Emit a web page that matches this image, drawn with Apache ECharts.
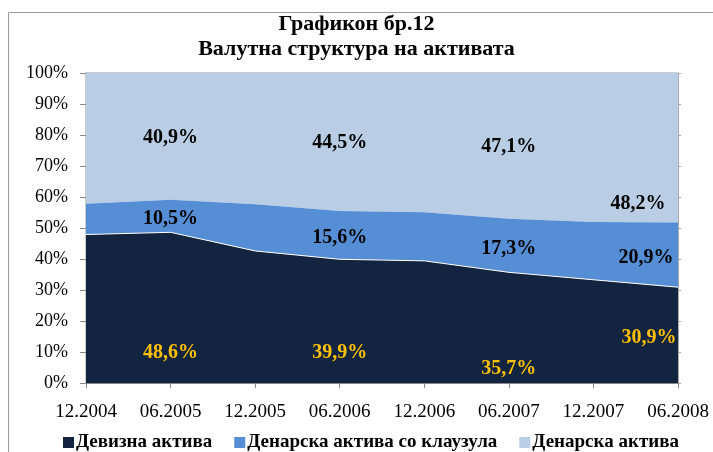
<!DOCTYPE html>
<html lang="mk">
<head>
    <meta charset="UTF-8">
    <title>Графикон бр.12</title>
    <script src="https://cdn.jsdelivr.net/npm/echarts@6/dist/echarts.min.js"></script>
    <style>
        html, body { margin: 0; padding: 0; background: #fff; }
        #main { width: 713px; height: 452px; }
    </style>
</head>
<body>
    <div id="main"></div>
    <script>
        // податоци
        var months = ['12.2004', '06.2005', '12.2005', '06.2006', '12.2006', '06.2007', '12.2007', '06.2008'];
        var devizna = [47.9, 48.6, 42.6, 39.9, 39.4, 35.7, 33.3, 30.9];
        var klauzula = [9.9, 10.5, 15.1, 15.6, 15.7, 17.3, 18.6, 20.9];
        var denarska = [42.2, 40.9, 42.3, 44.5, 44.9, 47.1, 48.1, 48.2];
        var yTicks = [0, 10, 20, 30, 40, 50, 60, 70, 80, 90, 100];

        // which points get a text label (index into months)
        var labelIdx = [1, 3, 5, 7];
        // label placement: y in axis %, x offset in px
        var labelPos = {
            devizna: [[9.6, 0], [9.6, 0], [4.7, 0], [14.7, -29]],
            klauzula: [[52.9, 0], [46.9, 0], [43.4, 0], [40.5, -32]],
            denarska: [[79.0, 0], [77.4, 0], [76.1, 0], [57.7, -40]]
        };

        var serif = '"Liberation Serif", "Times New Roman", serif';

        function fmt(v) {
            return String(v).replace('.', ',') + '%';
        }

        function marks(values, pos, color) {
            return {
                symbol: 'circle',
                symbolSize: 0,
                silent: true,
                label: {
                    show: true,
                    position: 'inside',
                    color: color,
                    fontFamily: serif,
                    fontWeight: 'bold',
                    fontSize: 20,
                    formatter: function (p) { return fmt(p.value); }
                },
                data: labelIdx.map(function (i, k) {
                    return {
                        coord: [months[i], pos[k][0]],
                        value: values[i],
                        label: { offset: [pos[k][1], 0] }
                    };
                })
            };
        }

        var myChart = echarts.init(document.getElementById('main'));

        var option = {
            animation: false,
            title: {
                text: 'Графикон бр.12\nВалутна структура на активата',
                left: 'center',
                top: 7,
                textStyle: {
                    fontFamily: serif,
                    fontWeight: 'bold',
                    fontSize: 22,
                    lineHeight: 25,
                    color: '#000'
                }
            },
            graphic: [{
                type: 'rect',
                shape: { x: 8.5, y: 12.5, width: 720, height: 460 },
                style: { fill: 'none', stroke: '#999', lineWidth: 1 },
                silent: true
            }],
            legend: {
                top: 428,
                left: 58,
                itemWidth: 11,
                itemHeight: 11,
                itemGap: 22,
                icon: 'rect',
                textStyle: {
                    fontFamily: serif,
                    fontWeight: 'bold',
                    fontSize: 19,
                    color: '#000',
                    padding: [0, 0, 0, -3]
                },
                data: ['Девизна актива', 'Денарска актива со клаузула', 'Денарска актива']
            },
            grid: {
                left: 86,
                right: 35,
                top: 73,
                bottom: 69,
                show: true,
                borderColor: '#999',
                borderWidth: 1
            },
            xAxis: {
                type: 'category',
                data: months,
                boundaryGap: false,
                axisLine: { lineStyle: { color: '#888' } },
                axisTick: { show: true, length: 5, lineStyle: { color: '#888' } },
                axisLabel: {
                    margin: 20,
                    color: '#000',
                    fontFamily: serif,
                    fontSize: 19
                },
                splitLine: { show: false }
            },
            yAxis: [{
                type: 'value',
                min: yTicks[0],
                max: yTicks[yTicks.length - 1],
                interval: 10,
                axisLine: { show: true, lineStyle: { color: '#888' } },
                axisTick: { show: true, length: 6, lineStyle: { color: '#888' } },
                axisLabel: {
                    margin: 18,
                    color: '#000',
                    fontFamily: serif,
                    fontSize: 18,
                    formatter: '{value}%'
                },
                splitLine: { show: false }
            }, {
                type: 'value',
                position: 'right',
                min: yTicks[0],
                max: yTicks[yTicks.length - 1],
                interval: 10,
                axisLine: { show: true, lineStyle: { color: '#aaa' } },
                axisTick: { show: true, length: 3, lineStyle: { color: '#aaa' } },
                axisLabel: { show: false },
                splitLine: { show: false }
            }],
            series: [{
                name: 'Девизна актива',
                type: 'line',
                stack: 'total',
                data: devizna,
                symbol: 'none',
                itemStyle: { color: '#12243F' },
                lineStyle: { color: '#fff', width: 1 },
                areaStyle: { color: '#12243F', opacity: 1 },
                markPoint: marks(devizna, labelPos.devizna, '#FFC000'),
                z: 3
            }, {
                name: 'Денарска актива со клаузула',
                type: 'line',
                stack: 'total',
                data: klauzula,
                symbol: 'none',
                itemStyle: { color: '#558ED5' },
                lineStyle: { width: 0 },
                areaStyle: { color: '#558ED5', opacity: 1 },
                markPoint: marks(klauzula, labelPos.klauzula, '#000'),
                z: 2
            }, {
                name: 'Денарска актива',
                type: 'line',
                stack: 'total',
                data: denarska,
                symbol: 'none',
                itemStyle: { color: '#B9CDE5' },
                lineStyle: { width: 0 },
                areaStyle: { color: '#B9CDE5', opacity: 1 },
                markPoint: marks(denarska, labelPos.denarska, '#000'),
                z: 1
            }]
        };

        myChart.setOption(option);
    </script>
</body>
</html>
